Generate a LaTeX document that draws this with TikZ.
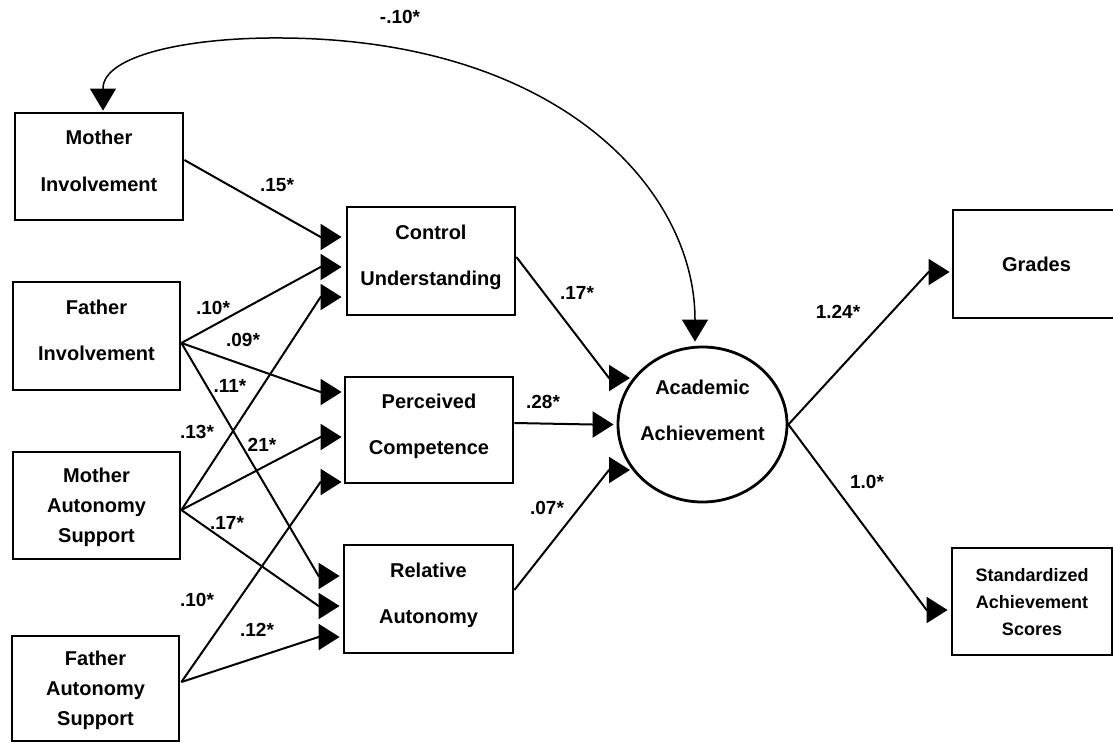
\documentclass[tikz,border=0pt]{standalone}
\usepackage{fontspec}
\setmainfont{Liberation Sans}
\usetikzlibrary{arrows.meta,calc,shapes.geometric}
\newcommand\bxfont{\fontsize{20}{24}\selectfont\bfseries}
\newcommand\sdfont{\fontsize{18}{22}\selectfont\bfseries}
\newcommand\lbfont{\fontsize{19}{22}\selectfont\bfseries}
\begin{document}
\begin{tikzpicture}[x=1pt,y=-1pt,
  box/.style={draw, line width=2.8pt, minimum width=167pt, minimum height=107pt,
              inner sep=0pt, align=center, font=\bxfont},
  two/.style={text depth=12pt},
  three/.style={text depth=0pt},
  conn/.style={line width=2pt, line join=round, -{Triangle[length=21pt,width=26pt]}},
  curv/.style={line width=1.5pt, {Triangle[length=22pt,width=26pt]}-{Triangle[length=22pt,width=26pt]}},
  lbl/.style={font=\lbfont, inner sep=0pt}
]
\useasboundingbox (0,0) rectangle (1113,742);

% left column
\node[box,two,minimum width=168pt] (mi) at (99,166.5) {Mother\\[22.5pt]Involvement};
\node[box,two,minimum height=108pt] (fi) at (96.5,336) {Father\\[22.5pt]Involvement};
\node[box,three] (mas) at (96.5,505.5) {Mother\\[6pt]Autonomy\\[6pt]Support};
\node[box,three,minimum height=105pt] (fas) at (95.5,688.5) {Father\\[6pt]Autonomy\\[6pt]Support};

% middle column
\node[box,two,minimum width=168pt,minimum height=108pt] (cu) at (431,261) {Control\\[22.5pt]Understanding};
\node[box,two,minimum width=168pt,minimum height=106pt] (pc) at (429,430) {Perceived\\[22.5pt]Competence};
\node[box,two,minimum width=169pt,minimum height=108pt] (ra) at (428.5,599) {Relative\\[22.5pt]Autonomy};

% latent
\node[draw, ellipse, line width=2.8pt, minimum width=169pt, minimum height=155pt, inner sep=0pt,
      label={[align=center,font=\bxfont,yshift=14.5pt]center:Academic\\[22pt]Achievement}] (aa) at (702.5,424.5) {};

% right column
\node[box,minimum height=108pt,text depth=-6pt] (gr) at (1036.5,264) {Grades};
\node[box,three,minimum width=160pt,font=\sdfont] (sd) at (1032,601.5) {Standardized\\[5pt]Achievement\\[5pt]Scores};

% arrow tip points
\coordinate (cu1) at ($(cu.west)+(-4,-24)$);
\coordinate (cu2) at ($(cu.west)+(-4,6)$);
\coordinate (cu3) at ($(cu.west)+(-4,36)$);
\coordinate (pc1) at ($(pc.west)+(-2,-38)$);
\coordinate (pc2) at ($(pc.west)+(-2,7)$);
\coordinate (pc3) at ($(pc.west)+(-2,52)$);
\coordinate (ra1) at ($(ra.west)+(-3,-23)$);
\coordinate (ra2) at ($(ra.west)+(-3,7)$);
\coordinate (ra3) at ($(ra.west)+(-3,38)$);
\coordinate (aa1) at ($(aa.center)+(-72.5,-46.5)$);
\coordinate (aa2) at ($(aa.west)+(-3,0)$);
\coordinate (aa3) at ($(aa.center)+(-72.5,45.5)$);
\coordinate (gr1) at ($(gr.west)+(-2,8)$);
\coordinate (sd1) at ($(sd.west)+(-3,8.5)$);

% source points
\coordinate (mis) at ($(mi.east)+(0,-6.5)$);
\coordinate (fis) at ($(fi.east)+(0,7)$);
\coordinate (mass) at ($(mas.east)+(0,4.5)$);
\coordinate (fass) at ($(fas.east)+(1,-6.5)$);

% paths to mediators
\draw[conn] (mis) -- ([xshift=-21pt]cu1) -- (cu1);
\draw[conn] (fis) -- ([xshift=-21pt]cu2) -- (cu2);
\draw[conn] (mass) -- ([xshift=-21pt]cu3) -- (cu3);
\draw[conn] (fis) -- ([xshift=-21pt]pc1) -- (pc1);
\draw[conn] (mass) -- ([xshift=-21pt]pc2) -- (pc2);
\draw[conn] (fass) -- ([xshift=-21pt]pc3) -- (pc3);
\draw[conn] (fis) -- ([xshift=-21pt]ra1) -- (ra1);
\draw[conn] (mass) -- ([xshift=-21pt]ra2) -- (ra2);
\draw[conn] (fass) -- ([xshift=-21pt]ra3) -- (ra3);

% paths to achievement
\draw[conn] ($(cu.east)+(0,-4)$) -- ([xshift=-21pt]aa1) -- (aa1);
\draw[conn] ($(pc.east)+(0,-7)$) -- ([xshift=-21pt]aa2) -- (aa2);
\draw[conn] ($(ra.east)+(0,-9)$) -- ([xshift=-21pt]aa3) -- (aa3);

% indicators
\draw[conn] (aa.east) -- ([xshift=-21pt]gr1) -- (gr1);
\draw[conn] (aa.east) -- ([xshift=-21pt]sd1) -- (sd1);

% covariance curve
\draw[curv] ($(aa.north)+(-7.5,-4)$) -- ++(0,-22)
   .. controls (695,190) and (560,40) .. (283,38)
   .. controls (190,37) and (103,55) .. ($(mi.north)+(4,-23)$)
   -- ($(mi.north)+(4,-1)$);

% labels
\node[lbl] (l0) at (400,17) {-.10*};
\node[lbl] (l1) at (277,185) {.15*};
\node[lbl] (l2) at (213,308) {.10*};
\node[lbl] (l3) at (243,340) {.09*};
\node[lbl] (l4) at (230,386) {.11*};
\node[lbl] (l5) at (197,432) {.13*};
\node[lbl] (l6) at (262,445) {21*};
\node[lbl] (l7) at (227,523) {.17*};
\node[lbl] (l8) at (197,600) {.10*};
\node[lbl] (l9) at (257,630) {.12*};
\node[lbl] (l10) at (577,293) {.17*};
\node[lbl] (l11) at (543,402) {.28*};
\node[lbl] (l12) at (547,508) {.07*};
\node[lbl] (l13) at (838,312) {1.24*};
\node[lbl] (l14) at (867,482) {1.0*};
\end{tikzpicture}
\end{document}
